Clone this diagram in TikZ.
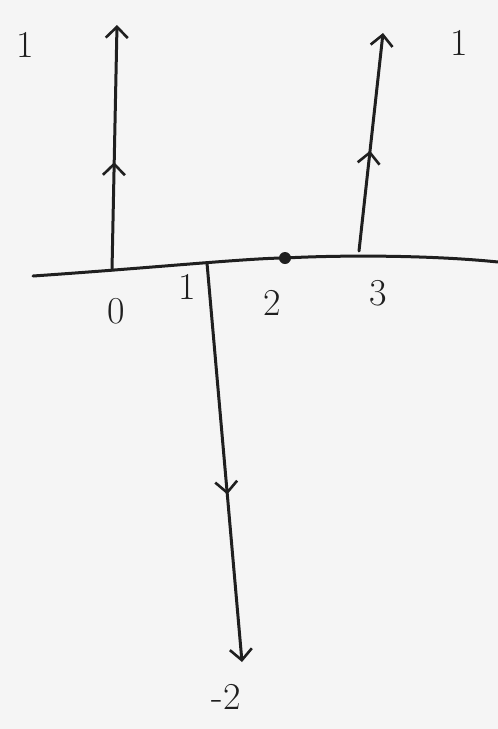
\documentclass[tikz,border=0pt]{standalone}
\usetikzlibrary{arrows.meta,decorations.markings}
\begin{document}
\begin{tikzpicture}[x=1pt,y=-1pt,
  pen/.style={line width=3pt,line cap=round,line join=round,black!88},
  tip/.style={-{Straight Barb[length=11pt,width=22pt,line width=2.6pt]}},
  midtip/.style={postaction={decorate},decoration={markings,
     mark=at position #1 with {\arrow{Straight Barb[length=11pt,width=22pt,line width=2.6pt]}}}},
  lab/.style={font=\fontsize{38}{44}\selectfont,text=black!88,inner sep=0pt}]
\fill[gray!8] (0,0) rectangle (498,729);
\useasboundingbox (0,0) rectangle (498,729);
% axis points
\coordinate (L) at (33,276);
\coordinate (p0) at (112,270);
\coordinate (p1) at (207,263);
\coordinate (p2) at (285,258);
\coordinate (p3) at (359,251);
\coordinate (R) at (498,262);
\coordinate (t0) at (117,25);
\coordinate (t3) at (383,33);
\coordinate (bm) at (242,662);
\draw[pen] (L) .. controls (150,268) and (250,258) .. (p2) .. controls (340,255) and (430,255) .. (R);
\draw[pen,tip,midtip=0.44] (p0) -- (t0);
\draw[pen,tip,midtip=0.46] (p3) -- (t3);
\draw[pen,tip,midtip=0.58] (p1) -- (bm);
\fill[black!88] (p2) circle (6);
\node[lab] (l1a) at (25,45) {1};
\node[lab] (l1b) at (459,43) {1};
\node[lab] (l0) at (116,311) {0};
\node[lab] (l1) at (187,287) {1};
\node[lab] (l2) at (272,303) {2};
\node[lab] (l3) at (378,293) {3};
\node[lab] (lm2) at (226,697) {-2};
\end{tikzpicture}
\end{document}
